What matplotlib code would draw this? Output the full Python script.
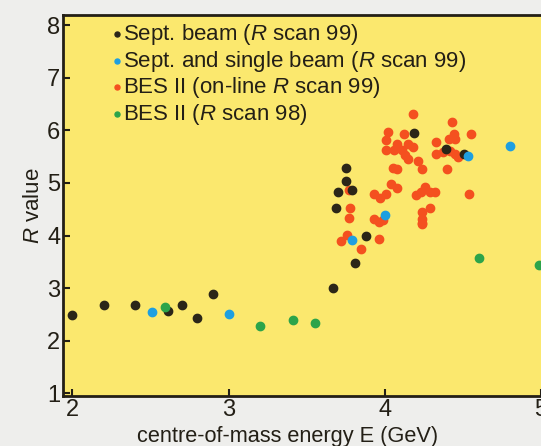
import matplotlib
matplotlib.use('Agg')
import matplotlib.pyplot as plt
from matplotlib import font_manager

# R measurements, energies in GeV
sept_x = [2.00, 2.20, 2.40, 2.61, 2.70, 2.80, 2.90, 3.67, 3.69, 3.70, 3.75, 3.75, 3.79,
          3.81, 3.88, 4.19, 4.39, 4.51]
sept_y = [2.49, 2.68, 2.68, 2.56, 2.68, 2.44, 2.89, 3.01, 4.52, 4.83, 5.29, 5.03, 4.86,
          3.48, 4.00, 5.95, 5.64, 5.56]

single_x = [2.51, 3.00, 3.79, 4.00, 4.53, 4.80]
single_y = [2.54, 2.51, 3.92, 4.40, 5.51, 5.71]

online_x = [3.72, 3.76, 3.85, 3.96, 4.24, 4.18, 4.43, 4.02, 4.12, 4.55, 4.44, 4.01, 4.08,
            4.15, 4.18, 4.33, 4.41, 4.45, 4.01, 4.06, 4.11, 4.13, 4.15, 4.21, 4.24, 4.33,
            4.37, 4.42, 4.45, 4.47, 4.40, 4.05, 4.08, 4.04, 4.08, 4.01, 3.93, 3.97, 4.20,
            4.23, 4.26, 4.29, 4.32, 4.54, 4.29, 4.24, 4.24, 4.24, 3.93, 3.96, 3.99, 3.77,
            3.78, 3.77]
online_y = [3.89, 4.01, 3.75, 3.93, 4.22, 6.31, 6.16, 5.97, 5.94, 5.93, 5.94, 5.81, 5.75,
            5.75, 5.69, 5.77, 5.83, 5.83, 5.62, 5.62, 5.62, 5.53, 5.45, 5.42, 5.27, 5.56,
            5.59, 5.61, 5.56, 5.50, 5.26, 5.28, 5.26, 4.99, 4.90, 4.80, 4.79, 4.71, 4.77,
            4.83, 4.93, 4.83, 4.83, 4.80, 4.52, 4.45, 4.32, 4.23, 4.32, 4.26, 4.29, 4.86,
            4.52, 4.33]

scan98_x = [2.59, 3.20, 3.41, 3.55, 4.60, 4.99]
scan98_y = [2.65, 2.28, 2.40, 2.33, 3.58, 3.45]

labels = ['Sept. beam ($\\it{R}$ scan 99)',
          'Sept. and single beam ($\\it{R}$ scan 99)',
          'BES II (on-line $\\it{R}$ scan 99)',
          'BES II ($\\it{R}$ scan 98)']

names = {f.name for f in font_manager.fontManager.ttflist}
fam = 'Liberation Sans Narrow' if 'Liberation Sans Narrow' in names else 'Liberation Sans'
plt.rcParams['font.family'] = [fam, 'DejaVu Sans']
plt.rcParams['mathtext.fontset'] = 'custom'
plt.rcParams['mathtext.it'] = fam + ':italic'
plt.rcParams['mathtext.rm'] = fam

fig = plt.figure(figsize=(5.41, 4.46), dpi=100, facecolor='#eeeeec')
ax = fig.add_axes([0.1165, 0.112, 0.8835, 0.854])
ax.set_facecolor('#fbe86e')

ink = '#231f16'
ms = 36
ax.scatter(sept_x, sept_y, s=ms, color='#2b2618', label=labels[0], zorder=3)
ax.scatter(single_x, single_y, s=ms, color='#1e9fe0', label=labels[1], zorder=4)
ax.scatter(online_x, online_y, s=ms, color='#f4501f', label=labels[2], zorder=2)
ax.scatter(scan98_x, scan98_y, s=ms, color='#2ca44a', label=labels[3], zorder=3)

ax.set_xlim(1.94, 5.0)
ax.set_ylim(0.95, 8.19)
ax.set_xticks([2, 3, 4, 5])
ax.set_yticks(range(1, 9))
ax.tick_params(direction='in', length=5, width=1.5, color=ink, labelsize=17,
               labelcolor=ink, pad=2)
for side in ['left', 'bottom', 'top']:
    ax.spines[side].set_linewidth(2)
    ax.spines[side].set_color(ink)
ax.spines['right'].set_visible(False)

ax.set_ylabel('$\\it{R}$ value', fontsize=16, color=ink, labelpad=2)
ax.set_xlabel('centre-of-mass energy E (GeV)', fontsize=15.7, color=ink, labelpad=0)
ax.xaxis.set_label_coords(0.47, -0.078)

leg = ax.legend(loc='upper left', bbox_to_anchor=(0.084, 1.006), frameon=False,
                fontsize=16, handlelength=0.4, handletextpad=0.1, labelspacing=0.08,
                borderaxespad=0, scatterpoints=1, markerscale=0.6)
for t in leg.get_texts():
    t.set_color(ink)

fig.savefig('out.png', dpi=100, facecolor=fig.get_facecolor())
